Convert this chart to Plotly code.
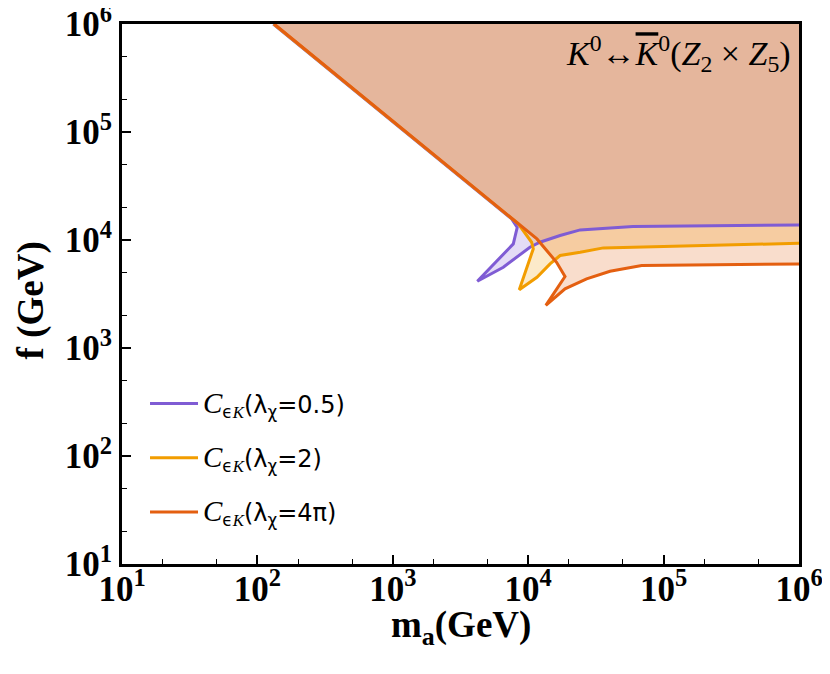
import plotly.graph_objects as go

# Contornos de exclusion (m_a y f en GeV).
m_05 = [131, 7550, 8300, 7760, 4210, 6550, 10300, 12200, 17200, 24200, 59400, 1.0e6]
f_05 = [1.0e6, 15670, 13090, 9200, 4150, 5600, 8570, 9530, 11000, 12400, 13300, 13800]

m_2 = [132, 8450, 10600, 10900, 8590, 11600, 14500, 17200, 24200, 35900, 1.0e6]
f_2 = [1.0e6, 14100, 9530, 8280, 3460, 4520, 6010, 7180, 7690, 8450, 9330]

m_4pi = [133, 3410, 11600, 16200, 18700, 13500, 18700, 27000, 40200, 68900, 1.0e6]
f_4pi = [1.0e6, 35400, 10230, 6220, 4590, 2480, 3530, 4370, 5140, 5800, 6010]

C_EPS = ("<span style='font-family:Liberation Serif;font-size:29px'><i>C</i></span>"
         "<sub>ϵ<span style='font-family:Liberation Serif'><i>K</i></span></sub>")
NOMBRES = [
    C_EPS + "(λ<sub>χ</sub>=0.5)",
    C_EPS + "(λ<sub>χ</sub>=2)",
    C_EPS + "(λ<sub>χ</sub>=4π)",
]
COLORES = ["#7f5cd4", "#f29d00", "#e45f10"]
RELLENOS = ["rgba(127,92,212,0.21)", "rgba(242,157,0,0.21)", "rgba(228,95,16,0.21)"]

TICK_VALS = [10, 100, 1000, 1e4, 1e5, 1e6]
TICK_TEXT = [f"<b>10<sup>{i}</sup></b>" for i in range(1, 7)]

TOPE = 1.0e6


def main():

    fig = go.Figure()

    curvas = [(m_05, f_05), (m_2, f_2), (m_4pi, f_4pi)]

    # Primero las regiones rellenas (cerradas por la esquina superior derecha).
    for (m, f), relleno in zip(curvas, RELLENOS):
        fig.add_trace(
            go.Scatter(
                x=m + [TOPE, m[0]],
                y=f + [TOPE, TOPE],
                fill="toself",
                fillcolor=relleno,
                mode="lines",
                line_width=0,
                showlegend=False,
                hoverinfo="skip",
            )
        )

    # Despues los contornos.
    for i, ((m, f), nombre, color) in enumerate(zip(curvas, NOMBRES, COLORES)):
        fig.add_trace(
            go.Scatter(
                x=m,
                y=f,
                name=nombre,
                mode="lines",
                line_color=color,
                line_width=3,
                legendgroup=str(i),
            )
        )

    eje = dict(
        type="log",
        range=[1, 6],
        tickvals=TICK_VALS,
        ticktext=TICK_TEXT,
        ticks="inside",
        ticklen=9,
        tickwidth=1.5,
        tickcolor="#000000",
        showline=True,
        linewidth=3,
        linecolor="#000000",
        mirror=True,
        showgrid=False,
        zeroline=False,
        automargin=False,
        ticklabeloverflow="allow",
        tickfont=dict(family="Liberation Serif", size=35, color="#000000"),
        minor=dict(ticks="inside", ticklen=5, tickwidth=1.2, tickcolor="#000000", showgrid=False),
    )

    fig.update_xaxes(**eje, ticklabelstandoff=-8)
    fig.update_yaxes(**eje)

    fuente_titulo = dict(family="Liberation Serif", size=37, color="#000000")

    fig.update_layout(
        width=814,
        height=658,
        plot_bgcolor="#FFFFFF",
        paper_bgcolor="#FFFFFF",
        margin=dict(l=114, r=23, t=16, b=102),
        showlegend=True,
        legend=dict(
            x=0.034,
            y=0.338,
            xanchor="left",
            yanchor="top",
            bgcolor="rgba(0,0,0,0)",
            itemwidth=48,
            font=dict(family="DejaVu Sans", size=24, color="#000000"),
            tracegroupgap=20,
        ),
        annotations=[
            dict(
                x=0.991,
                y=0.945,
                xref="paper",
                yref="paper",
                xanchor="right",
                yanchor="middle",
                showarrow=False,
                font=dict(family="Liberation Serif", size=34, color="#000000"),
                text="<i>K</i><sup>0</sup>↔<span style='text-decoration:overline'><i>K</i></span><sup>0</sup>"
                     "(<i>Z</i><sub>2</sub> × <i>Z</i><sub>5</sub>)",
            ),
            dict(
                x=0.5,
                y=-0.118,
                xref="paper",
                yref="paper",
                xanchor="center",
                yanchor="middle",
                showarrow=False,
                font=fuente_titulo,
                text="<b>m<sub>a</sub>(GeV)</b>",
            ),
            dict(
                x=-0.133,
                y=0.488,
                xref="paper",
                yref="paper",
                xanchor="center",
                yanchor="middle",
                textangle=-90,
                showarrow=False,
                font=fuente_titulo,
                text="<b>f (GeV)</b>",
            ),
        ],
    )

    fig.write_html("out.html")


if __name__ == "__main__":

    main()
